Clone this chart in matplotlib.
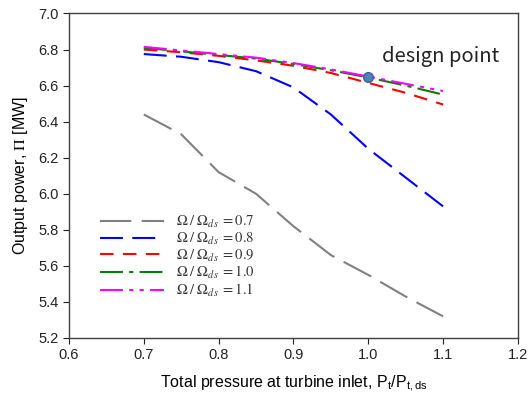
import matplotlib
matplotlib.use("Agg")
import matplotlib.pyplot as plt

plt.rcParams['font.family'] = ['Liberation Sans', 'DejaVu Sans']
plt.rcParams['mathtext.fontset'] = 'stix'

x = [0.7, 0.75, 0.8, 0.85, 0.9, 0.95, 1.0, 1.05, 1.1]
s07 = [6.44, 6.33, 6.12, 6.00, 5.82, 5.66, 5.55, 5.43, 5.32]
s08 = [6.775, 6.76, 6.73, 6.68, 6.59, 6.44, 6.25, 6.09, 5.93]
s09 = [6.80, 6.785, 6.765, 6.74, 6.71, 6.67, 6.615, 6.56, 6.495]
s10 = [6.81, 6.79, 6.77, 6.75, 6.72, 6.685, 6.645, 6.60, 6.55]
s11 = [6.815, 6.795, 6.775, 6.755, 6.725, 6.69, 6.65, 6.61, 6.57]
labels = ['0.7', '0.8', '0.9', '1.0', '1.1']
design_x = [1.0]
design_y = [6.65]

fig = plt.figure(figsize=(5.29, 4.04), dpi=100)
ax = fig.add_axes([0.1304, 0.1634, 0.8486, 0.8032])

styles = [
    dict(color='#808080', dashes=(15, 5)),
    dict(color='#0000ff', dashes=(11, 4.5)),
    dict(color='#ff0000', dashes=(6.5, 4.5)),
    dict(color='#008000', dashes=(11, 3, 2, 3)),
    dict(color='#ff00ff', dashes=(11, 3, 2, 3, 2, 3)),
]
for ys, lab, st in zip([s07, s08, s09, s10, s11], labels, styles):
    ax.plot(x, ys, lw=1.5, label=r'$\Omega\;/\;\Omega_{ds}\;=' + lab + '$', **st)

ax.plot(design_x, design_y, 'o', ms=7, mfc='#4f81bd', mec='#3a6592', mew=1, zorder=5)
ax.text(1.018, 6.76, 'design point', fontsize=14.5, family=['Noto Sans CJK KR', 'DejaVu Sans'],
        ha='left', va='center', color='#222222')

ax.set_xlim(0.6, 1.2)
ax.set_ylim(5.2, 7.0)
ax.set_xticks([0.6, 0.7, 0.8, 0.9, 1.0, 1.1, 1.2])
ax.set_yticks([5.2, 5.4, 5.6, 5.8, 6.0, 6.2, 6.4, 6.6, 6.8, 7.0])
ax.tick_params(direction='out', length=4, labelsize=10.5, colors='#222222', top=False, right=False)
for sp in ax.spines.values():
    sp.set_color('#404040')
    sp.set_linewidth(1.0)

ax.set_xlabel(r'Total pressure at turbine inlet, P$_{\mathregular{t}}$/P$_{\mathregular{t,ds}}$', fontsize=11.5, labelpad=8)
ax.set_ylabel(r'Output power, $\Pi$ [MW]', fontsize=11.5, labelpad=6)

leg = ax.legend(loc='lower left', bbox_to_anchor=(0.053, 0.097), frameon=False, fontsize=10.5,
                handlelength=4.4, handletextpad=0.8, labelspacing=0.05, borderpad=0)
for t in leg.get_texts():
    t.set_color('#333333')

fig.savefig('out.png', dpi=100)
